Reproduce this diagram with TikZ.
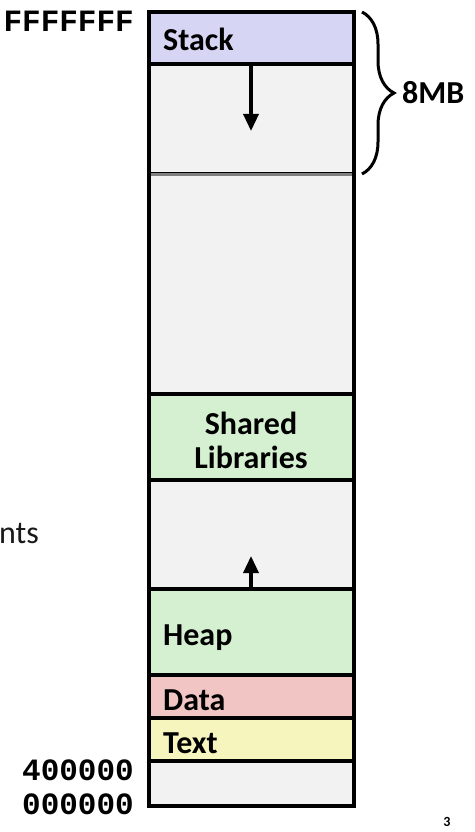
\documentclass[tikz,border=0pt]{standalone}
\usepackage{fontspec}
\setmainfont{Carlito}
\newfontfamily\monofont{Liberation Mono}
\usetikzlibrary{decorations.pathreplacing,arrows.meta}
\definecolor{lav}{RGB}{214,214,244}
\definecolor{freegray}{RGB}{242,242,242}
\definecolor{grn}{RGB}{213,240,208}
\definecolor{pnk}{RGB}{242,197,197}
\definecolor{ylw}{RGB}{247,245,190}
\tikzset{
  seg/.style={draw=black, line width=3.4pt, rectangle, minimum width=205pt,
    anchor=north west, inner sep=0pt, outer sep=0pt},
  lbl/.style={anchor=base west, inner sep=0pt, font=\fontsize{32}{34}\selectfont\bfseries},
  addr/.style={anchor=base east, inner sep=0pt, font=\monofont\fontsize{31}{32}\selectfont\bfseries},
  growarrow/.style={line width=3.4pt, -{Triangle[length=17pt,width=15pt]}},
}
\begin{document}
\begin{tikzpicture}[x=1pt,y=-1pt]
\useasboundingbox (0,0) rectangle (474,832);
\fill[white] (0,0) rectangle (474,832);
% segments
\node[seg, fill=freegray, minimum height=110pt] (free1) at (149,64) {};
\node[seg, fill=freegray, minimum height=220pt] (free2) at (149,174) {};
\node[seg, fill=freegray, minimum height=109pt] (free3) at (149,480) {};
\node[seg, fill=freegray, minimum height=45pt] (bottom) at (149,761) {};
\node[seg, fill=lav, minimum height=52pt] (stack) at (149,12) {};
\node[seg, fill=grn, minimum height=86pt] (shlib) at (149,394) {};
\node[seg, fill=grn, minimum height=86pt] (heap) at (149,589) {};
\node[seg, fill=pnk, minimum height=43pt] (data) at (149,675) {};
\node[seg, fill=ylw, minimum height=43pt] (text) at (149,718) {};
% labels
\node[lbl] (lstack) at (163,51) {Stack};
\node[lbl, anchor=center, align=center] (lshlib) at (251,440) {Shared\\Libraries};
\node[lbl] (lheap) at (163,645) {Heap};
\node[lbl] (ldata) at (163,710) {Data};
\node[lbl] (ltext) at (163,753) {Text};
% gray divider
\draw[draw=black!50, line width=3pt] ([xshift=1.7pt]free1.south west) -- ([xshift=-1.7pt]free1.south east);
% growth arrows
\coordinate (sdown) at (251,131);
\coordinate (hup) at (251,556);
\draw[growarrow] (stack.south -| sdown) -- (sdown);
\draw[growarrow] (heap.north -| hup) -- (hup);
% brace
\coordinate (btop) at (362,12);
\coordinate (bbot) at (362,174);
\draw[line width=3pt, decorate, decoration={brace, amplitude=32pt, aspect=0.5}] (btop) -- (bbot);
\node[lbl, anchor=base west] (mb) at (402,104) {8MB};
% addresses
\node[addr] (ahigh) at (134,32) {FFFFFFF};
\node[addr] (a400) at (134,780) {400000};
\node[addr] (a000) at (134,814) {000000};
% cut-off text on left (cut in the reference too)
\node[anchor=base west, inner sep=0pt, font=\fontsize{32}{34}\selectfont, text=black!90] (nts) at (-1,543) {nts};
% page number
\node[inner sep=0pt, font=\fontsize{14}{14}\selectfont\bfseries] (pg) at (447,822) {3};
\end{tikzpicture}
\end{document}
